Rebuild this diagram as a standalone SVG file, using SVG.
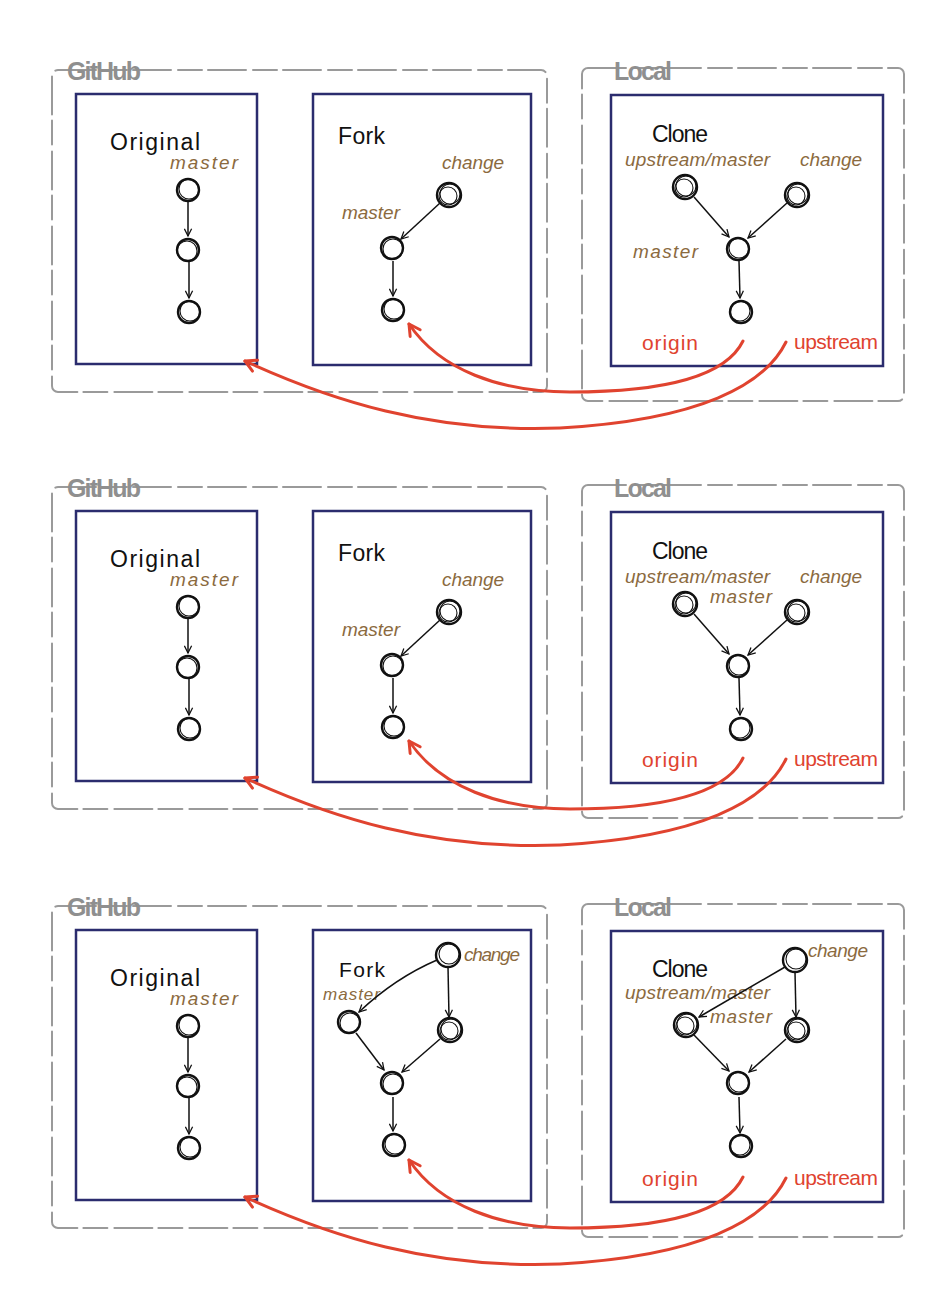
<svg xmlns="http://www.w3.org/2000/svg" width="946" height="1292" viewBox="0 0 946 1292">
<defs>
<style>
.bg{fill:#ffffff}
.region{fill:none;stroke:#9a9a9a;stroke-width:2;stroke-dasharray:38 7 24 6;stroke-linecap:round}
.region-label{font-family:"Liberation Sans",sans-serif;font-weight:bold;font-size:25px;fill:#8f8f8f}
.repo{fill:none;stroke:#2b2c6e;stroke-width:2.5}
.title{font-family:"Liberation Sans",sans-serif;font-size:23px;fill:#111}
.branch{font-family:"Liberation Sans",sans-serif;font-style:italic;font-size:19px;fill:#8b6a3e}
.remote{font-family:"Liberation Sans",sans-serif;font-size:21px;fill:#e0432f}
.commit{fill:#fff;stroke:#111;stroke-width:2.4}
.commit2{fill:none;stroke:#111;stroke-width:1.1}
.edge{fill:none;stroke:#111;stroke-width:1.5;marker-end:url(#arr)}
.remote-link{fill:none;stroke:#e0432f;stroke-width:3;stroke-linecap:round;marker-end:url(#rarr)}
</style>
<marker id="arr" viewBox="0 0 10 10" refX="9" refY="5" markerWidth="9" markerHeight="9" markerUnits="userSpaceOnUse" orient="auto">
<path d="M1,1 L9,5 L1,9" fill="none" stroke="#111" stroke-width="1.4"/>
</marker>
<marker id="rarr" viewBox="0 0 16 16" refX="13" refY="8" markerWidth="16" markerHeight="16" markerUnits="userSpaceOnUse" orient="auto">
<path d="M2,2 L13,8 L2,14" fill="none" stroke="#e0432f" stroke-width="3" stroke-linecap="round" stroke-linejoin="round"/>
</marker>
</defs>
<rect class="bg" x="0" y="0" width="946" height="1292"/>

<!-- ================= PANEL 1 ================= -->
<g id="panel1">
  <g id="p1-github">
    <rect class="region" x="52" y="70" width="495" height="322" rx="6"/>
    <text class="region-label" x="67" y="80" textLength="74">GitHub</text>
  </g>
  <g id="p1-local">
    <rect class="region" x="582" y="68" width="322" height="333" rx="6"/>
    <text class="region-label" x="614" y="80" textLength="58">Local</text>
  </g>
  <g id="p1-original">
    <rect class="repo" x="76" y="94" width="181" height="270"/>
    <text class="title" x="110" y="150" textLength="90">Original</text>
    <text class="branch" x="170" y="169" textLength="68">master</text>
  </g>
  <g id="p1-fork">
    <rect class="repo" x="313" y="94" width="218" height="271"/>
    <text class="title" x="338" y="144" textLength="47">Fork</text>
    <text class="branch" x="442" y="169" textLength="62">change</text>
    <text class="branch" x="342" y="219" textLength="58">master</text>
  </g>
  <g id="p1-clone">
    <rect class="repo" x="611" y="95" width="272" height="271"/>
    <text class="title" x="652" y="142" textLength="56">Clone</text>
    <text class="branch" x="625" y="166" textLength="145">upstream/master</text>
    <text class="branch" x="800" y="166" textLength="62">change</text>
    <text class="branch" x="633" y="258" textLength="65">master</text>
    <text class="remote" x="642" y="350" textLength="56">origin</text>
    <text class="remote" x="794" y="349" textLength="84">upstream</text>
  </g>
  <g id="p1-connectors">
    <path class="edge" d="M188,202 L188,236"/>
    <path class="edge" d="M189,262 L189,298"/>
    <path class="edge" d="M440,203 L401,239"/>
    <path class="edge" d="M393,261 L393,296"/>
    <path class="edge" d="M694,197 L729,237"/>
    <path class="edge" d="M787,203 L748,238"/>
    <path class="edge" d="M739,261 L740,298"/>
    <path class="remote-link" d="M743,341 C725,378 660,392 570,392 C500,392 440,370 409,324"/>
    <path class="remote-link" d="M786,342 C765,385 700,420 560,428 C430,433 330,400 245,361"/>
  </g>
  <g id="p1-orig-c1"><circle class="commit" cx="188" cy="190" r="11"/><circle class="commit2" cx="189" cy="189" r="10"/></g>
  <g id="p1-orig-c2"><circle class="commit" cx="188" cy="250" r="11"/><circle class="commit2" cx="187" cy="251" r="10"/></g>
  <g id="p1-orig-c3"><circle class="commit" cx="189" cy="312" r="11"/><circle class="commit2" cx="190" cy="311" r="10"/></g>
  <g id="p1-fork-change"><circle class="commit" cx="449" cy="195" r="12"/><circle class="commit2" cx="450" cy="194" r="10"/><circle class="commit2" cx="448" cy="196" r="9"/></g>
  <g id="p1-fork-master"><circle class="commit" cx="392" cy="248" r="11"/><circle class="commit2" cx="393" cy="249" r="10"/></g>
  <g id="p1-fork-c1"><circle class="commit" cx="393" cy="310" r="11"/><circle class="commit2" cx="394" cy="309" r="10"/></g>
  <g id="p1-clone-upstream"><circle class="commit" cx="685" cy="187" r="12"/><circle class="commit2" cx="686" cy="186" r="10"/><circle class="commit2" cx="684" cy="188" r="9"/></g>
  <g id="p1-clone-change"><circle class="commit" cx="797" cy="195" r="12"/><circle class="commit2" cx="798" cy="194" r="10"/><circle class="commit2" cx="796" cy="196" r="9"/></g>
  <g id="p1-clone-master"><circle class="commit" cx="738" cy="249" r="11"/><circle class="commit2" cx="739" cy="248" r="10"/></g>
  <g id="p1-clone-c1"><circle class="commit" cx="741" cy="312" r="11"/><circle class="commit2" cx="740" cy="311" r="10"/></g>
</g>

<!-- ================= PANEL 2 ================= -->
<g id="panel2" transform="translate(0,417)">
  <g id="p2-github">
    <rect class="region" x="52" y="70" width="495" height="322" rx="6"/>
    <text class="region-label" x="67" y="80" textLength="74">GitHub</text>
  </g>
  <g id="p2-local">
    <rect class="region" x="582" y="68" width="322" height="333" rx="6"/>
    <text class="region-label" x="614" y="80" textLength="58">Local</text>
  </g>
  <g id="p2-original">
    <rect class="repo" x="76" y="94" width="181" height="270"/>
    <text class="title" x="110" y="150" textLength="90">Original</text>
    <text class="branch" x="170" y="169" textLength="68">master</text>
  </g>
  <g id="p2-fork">
    <rect class="repo" x="313" y="94" width="218" height="271"/>
    <text class="title" x="338" y="144" textLength="47">Fork</text>
    <text class="branch" x="442" y="169" textLength="62">change</text>
    <text class="branch" x="342" y="219" textLength="58">master</text>
  </g>
  <g id="p2-clone">
    <rect class="repo" x="611" y="95" width="272" height="271"/>
    <text class="title" x="652" y="142" textLength="56">Clone</text>
    <text class="branch" x="625" y="166" textLength="145">upstream/master</text>
    <text class="branch" x="800" y="166" textLength="62">change</text>
    <text class="branch" x="710" y="186" textLength="62">master</text>
    <text class="remote" x="642" y="350" textLength="56">origin</text>
    <text class="remote" x="794" y="349" textLength="84">upstream</text>
  </g>
  <g id="p2-connectors">
    <path class="edge" d="M188,202 L188,236"/>
    <path class="edge" d="M189,262 L189,298"/>
    <path class="edge" d="M440,203 L401,239"/>
    <path class="edge" d="M393,261 L393,296"/>
    <path class="edge" d="M694,197 L729,237"/>
    <path class="edge" d="M787,203 L748,238"/>
    <path class="edge" d="M739,261 L740,298"/>
    <path class="remote-link" d="M743,341 C725,378 660,392 570,392 C500,392 440,370 409,324"/>
    <path class="remote-link" d="M786,342 C765,385 700,420 560,428 C430,433 330,400 245,361"/>
  </g>
  <g id="p2-orig-c1"><circle class="commit" cx="188" cy="190" r="11"/><circle class="commit2" cx="189" cy="189" r="10"/></g>
  <g id="p2-orig-c2"><circle class="commit" cx="188" cy="250" r="11"/><circle class="commit2" cx="187" cy="251" r="10"/></g>
  <g id="p2-orig-c3"><circle class="commit" cx="189" cy="312" r="11"/><circle class="commit2" cx="190" cy="311" r="10"/></g>
  <g id="p2-fork-change"><circle class="commit" cx="449" cy="195" r="12"/><circle class="commit2" cx="450" cy="194" r="10"/><circle class="commit2" cx="448" cy="196" r="9"/></g>
  <g id="p2-fork-master"><circle class="commit" cx="392" cy="248" r="11"/><circle class="commit2" cx="393" cy="249" r="10"/></g>
  <g id="p2-fork-c1"><circle class="commit" cx="393" cy="310" r="11"/><circle class="commit2" cx="394" cy="309" r="10"/></g>
  <g id="p2-clone-upstream"><circle class="commit" cx="685" cy="187" r="12"/><circle class="commit2" cx="686" cy="186" r="10"/><circle class="commit2" cx="684" cy="188" r="9"/></g>
  <g id="p2-clone-change"><circle class="commit" cx="797" cy="195" r="12"/><circle class="commit2" cx="798" cy="194" r="10"/><circle class="commit2" cx="796" cy="196" r="9"/></g>
  <g id="p2-clone-master"><circle class="commit" cx="738" cy="249" r="11"/><circle class="commit2" cx="739" cy="248" r="10"/></g>
  <g id="p2-clone-c1"><circle class="commit" cx="741" cy="312" r="11"/><circle class="commit2" cx="740" cy="311" r="10"/></g>
</g>

<!-- ================= PANEL 3 ================= -->
<g id="panel3" transform="translate(0,836)">
  <g id="p3-github">
    <rect class="region" x="52" y="70" width="495" height="322" rx="6"/>
    <text class="region-label" x="67" y="80" textLength="74">GitHub</text>
  </g>
  <g id="p3-local">
    <rect class="region" x="582" y="68" width="322" height="333" rx="6"/>
    <text class="region-label" x="614" y="80" textLength="58">Local</text>
  </g>
  <g id="p3-original">
    <rect class="repo" x="76" y="94" width="181" height="270"/>
    <text class="title" x="110" y="150" textLength="90">Original</text>
    <text class="branch" x="170" y="169" textLength="68">master</text>
  </g>
  <g id="p3-fork">
    <rect class="repo" x="313" y="94" width="218" height="271"/>
    <text class="title" x="339" y="141" textLength="46" style="font-size:21px">Fork</text>
    <text class="branch" x="464" y="125" textLength="56">change</text>
    <text class="branch" x="323" y="164" textLength="57" style="font-size:17px">master</text>
  </g>
  <g id="p3-clone">
    <rect class="repo" x="611" y="95" width="272" height="271"/>
    <text class="title" x="652" y="141" textLength="56">Clone</text>
    <text class="branch" x="625" y="163" textLength="145">upstream/master</text>
    <text class="branch" x="808" y="121" textLength="60">change</text>
    <text class="branch" x="710" y="187" textLength="62">master</text>
    <text class="remote" x="642" y="350" textLength="56">origin</text>
    <text class="remote" x="794" y="349" textLength="84">upstream</text>
  </g>
  <g id="p3-connectors">
    <path class="edge" d="M188,202 L188,236"/>
    <path class="edge" d="M189,262 L189,298"/>
    <path class="edge" d="M437,124 Q395,142 359,176"/>
    <path class="edge" d="M448,131 L449,181"/>
    <path class="edge" d="M356,197 L384,234"/>
    <path class="edge" d="M440,203 L402,236"/>
    <path class="edge" d="M393,261 L393,295"/>
    <path class="edge" d="M785,131 L699,181"/>
    <path class="edge" d="M795,136 L796,181"/>
    <path class="edge" d="M694,199 L729,235"/>
    <path class="edge" d="M786,203 L749,236"/>
    <path class="edge" d="M739,261 L740,297"/>
    <path class="remote-link" d="M743,341 C725,378 660,392 570,392 C500,392 440,370 409,324"/>
    <path class="remote-link" d="M786,342 C765,385 700,420 560,428 C430,433 330,400 245,361"/>
  </g>
  <g id="p3-orig-c1"><circle class="commit" cx="188" cy="190" r="11"/><circle class="commit2" cx="189" cy="189" r="10"/></g>
  <g id="p3-orig-c2"><circle class="commit" cx="188" cy="250" r="11"/><circle class="commit2" cx="187" cy="251" r="10"/></g>
  <g id="p3-orig-c3"><circle class="commit" cx="189" cy="312" r="11"/><circle class="commit2" cx="190" cy="311" r="10"/></g>
  <g id="p3-fork-change"><circle class="commit" cx="448" cy="119" r="12"/><circle class="commit2" cx="449" cy="118" r="10"/></g>
  <g id="p3-fork-master"><circle class="commit" cx="349" cy="186" r="11"/><circle class="commit2" cx="350" cy="187" r="10"/></g>
  <g id="p3-fork-c2"><circle class="commit" cx="450" cy="194" r="12"/><circle class="commit2" cx="451" cy="193" r="10"/><circle class="commit2" cx="449" cy="195" r="9"/></g>
  <g id="p3-fork-merge"><circle class="commit" cx="392" cy="247" r="11"/><circle class="commit2" cx="393" cy="248" r="10"/></g>
  <g id="p3-fork-c1"><circle class="commit" cx="394" cy="309" r="11"/><circle class="commit2" cx="395" cy="308" r="10"/></g>
  <g id="p3-clone-change"><circle class="commit" cx="795" cy="124" r="12"/><circle class="commit2" cx="796" cy="123" r="10"/></g>
  <g id="p3-clone-upstream"><circle class="commit" cx="686" cy="189" r="12"/><circle class="commit2" cx="687" cy="188" r="10"/><circle class="commit2" cx="685" cy="190" r="9"/></g>
  <g id="p3-clone-c2"><circle class="commit" cx="797" cy="194" r="12"/><circle class="commit2" cx="798" cy="193" r="10"/><circle class="commit2" cx="796" cy="195" r="9"/></g>
  <g id="p3-clone-master"><circle class="commit" cx="738" cy="247" r="11"/><circle class="commit2" cx="739" cy="246" r="10"/></g>
  <g id="p3-clone-c1"><circle class="commit" cx="741" cy="310" r="11"/><circle class="commit2" cx="740" cy="309" r="10"/></g>
</g>
</svg>
